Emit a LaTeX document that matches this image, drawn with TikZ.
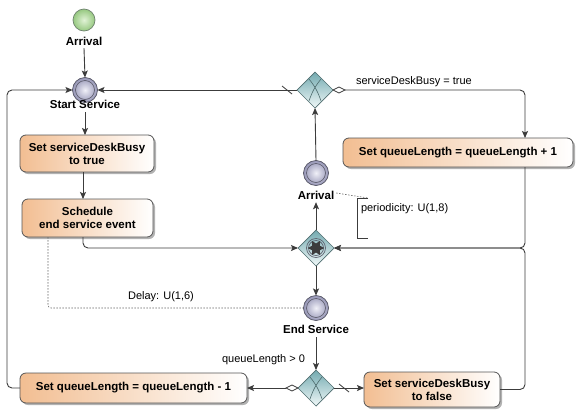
\documentclass[tikz,border=0pt]{standalone}
\usepackage{fontspec}
\setmainfont{Liberation Sans}
\usetikzlibrary{arrows.meta,shapes.geometric,shadows,calc}
\definecolor{peach}{RGB}{242,190,146}
\definecolor{edge}{RGB}{85,85,85}
\definecolor{conn}{RGB}{60,60,60}
\definecolor{tealA}{RGB}{115,170,176}
\definecolor{tealB}{RGB}{240,248,248}
\definecolor{gwedge}{RGB}{80,110,112}
\definecolor{evout}{RGB}{150,150,182}
\definecolor{evin}{RGB}{240,240,248}
\definecolor{evedge}{RGB}{85,85,100}
\definecolor{grout}{RGB}{150,200,128}
\definecolor{grin}{RGB}{225,243,214}
\definecolor{gredge}{RGB}{110,130,110}
\begin{document}
\begin{tikzpicture}[x=1pt,y=-1pt,
  every node/.style={inner sep=0pt,outer sep=0pt},
  task/.style={draw=edge,line width=0.8pt,rounded corners=6pt,
     left color=peach,right color=white,
     drop shadow={shadow xshift=2pt,shadow yshift=-2pt,fill=black,opacity=0.3},
     font=\fontsize{11.5}{13}\selectfont\bfseries,align=center},
  evt/.style={circle,draw=evedge,line width=0.7pt,inner color=evin,outer color=evout,minimum size=25pt},
  startevt/.style={circle,draw=gredge,line width=0.7pt,inner color=grin,outer color=grout,minimum size=22pt},
  gw/.style={diamond,aspect=1,minimum width=36pt,minimum height=36pt,draw=gwedge,line width=0.7pt,
     top color=tealA,bottom color=tealB},
  lbl/.style={font=\fontsize{11.5}{13}\selectfont\bfseries},
  txt/.style={font=\fontsize{11}{13}\selectfont},
  flow/.style={draw=conn,line width=0.9pt,-{Stealth[length=7pt,width=6pt,inset=1.5pt]}},
  assoc/.style={draw=gray!80!black,line width=0.6pt,dash pattern=on 1.5pt off 1.5pt},
  xmark/.style={draw=gwedge,line width=0.6pt},
  slash/.style={draw=conn,line width=0.8pt},
  condmark/.style={draw=conn,line width=0.8pt,fill=white}
]
\useasboundingbox (0,0) rectangle (586,418);
\fill[white] (0,0) rectangle (586,418);

% helper x positions
\coordinate (lx) at (7,0);
\coordinate (rx) at (525,0);
\coordinate (bx) at (83,0);
\coordinate (dx) at (48,0);

% events
\node[startevt] (arr1) at (84,20) {};
\node[lbl] (arr1l) at (84,41) {Arrival};
\node[evt] (ss) at (85,90) {};
\draw[evedge,line width=0.6pt] (ss) circle (9.5pt);
\node[lbl] (ssl) at (85,104) {Start Service};

\node[evt] (arr2) at (316,173) {};
\draw[evedge,line width=0.6pt] (arr2) circle (9.5pt);
\node[lbl] (arr2l) at (316,195) {Arrival};

\node[evt] (es) at (316,308) {};
\draw[evedge,line width=0.6pt] (es) circle (9.5pt);
\node[lbl] (esl) at (316,329) {End Service};

% tasks
\node[task,minimum width=134pt,minimum height=37pt] (b1) at (87,153.5) {Set serviceDeskBusy\\to true};
\node[task,minimum width=131pt,minimum height=38pt] (b2) at (87.5,218) {Schedule\\end service event};
\node[task,minimum width=230pt,minimum height=29pt] (b3) at (458,152.5) {Set queueLength = queueLength + 1};
\node[task,minimum width=227pt,minimum height=30pt] (b4) at (133.5,388) {Set queueLength = queueLength - 1};
\node[task,minimum width=136pt,minimum height=35pt] (b5) at (432,389.5) {Set serviceDeskBusy\\to false};

% gateways
\node[gw] (g1) at (315,90) {};
\draw[xmark] ($(g1)+(-6,-11)$) to[bend left=10] ($(g1)+(6,11)$);
\draw[xmark] ($(g1)+(6,-11)$) to[bend right=10] ($(g1)+(-6,11)$);

\node[gw] (g2) at (316,248) {};
\draw[evedge,line width=0.6pt] (g2) circle (9.5pt);
\draw[evedge,line width=0.6pt] (g2) circle (7.5pt);
\node[star,star points=6,star point ratio=0.55,fill=conn,minimum size=9pt] (g2s) at (g2) {};

\node[gw] (g3) at (316,388) {};
\draw[xmark] ($(g3)+(-6,-11)$) to[bend left=10] ($(g3)+(6,11)$);
\draw[xmark] ($(g3)+(6,-11)$) to[bend right=10] ($(g3)+(-6,11)$);

% flows
\draw[flow] (arr1l.south) ++(0,3) -- (ss.north);
\draw[flow] (ssl.south) ++(0,4) -- (ssl.south |- b1.north);
\draw[flow] (bx |- b1.south) -- (bx |- b2.north);
\draw[flow,rounded corners=5pt] (bx |- b2.south) -- (bx |- g2.west) -- (g2.west);

% g1 default flow to Start Service
\draw[slash] ($(g1.west)+(-15,-4)$) -- ++(10,8);
\draw[flow] (g1.west) -- (ss.east);
% g1 conditional flow to b3
\draw[condmark] (g1.east) -- ++(6,-3) -- ++(6,3) -- ++(-6,3) -- cycle;
\coordinate (c1) at ($(g1.east)+(12,0)$);
\draw[flow,rounded corners=5pt] (c1) -- (rx |- c1) -- (rx |- b3.north);
\node[txt,anchor=west] (lab1) at (356,82) {serviceDeskBusy = true};

% arrival to g1
\draw[flow] (arr2.north) -- (g1.south);
% g2 to arrival
\draw[flow] (g2.north) -- ($(arr2l.south)+(0,3)$);
% g2 to end service
\draw[flow] (g2.south) -- (es.north);

% b3 to g2, b5 to g2
\draw[flow,rounded corners=5pt] (rx |- b3.south) -- (rx |- g2.east) -- (g2.east);
\draw[flow,rounded corners=5pt] (b5.east) -- (rx |- b5.east) -- (rx |- g2.east) -- (g2.east);

% delay association
\draw[assoc,rounded corners=3pt] (dx |- b2.south) -- (dx |- es.west) -- (es.west);
\node[txt] (lab2) at (161,297) {Delay: U(1,6)};

% annotation
\coordinate (n1) at (368,198);
\coordinate (n2) at (357,198);
\coordinate (n3) at (357,238);
\coordinate (n4) at (368,238);
\draw[assoc] ($(arr2l.east)+(2,-2)$) -- (n1);
\draw[conn,line width=0.8pt] (n1) -- (n2) -- (n3) -- (n4);
\node[txt,anchor=west] (lab3) at (361,209) {periodicity: U(1,8)};

% end service to g3
\draw[flow] ($(esl.south)+(0,4)$) -- (g3.north);
\node[txt,anchor=east] (lab4) at (305,360) {queueLength > 0};

% g3 conditional to b4
\draw[condmark] (g3.west) -- ++(-6,-3) -- ++(-6,3) -- ++(6,3) -- cycle;
\coordinate (c3) at ($(g3.west)+(-12,0)$);
\draw[flow] (c3) -- (b4.east);
% g3 default to b5
\draw[slash] ($(g3.east)+(5,-4)$) -- ++(10,8);
\draw[flow] (g3.east) -- (g3.east -| b5.west);

% b4 back to start service
\draw[flow,rounded corners=5pt] (b4.west) -- (lx |- b4.west) -- (lx |- ss.west) -- (ss.west);
\end{tikzpicture}
\end{document}
